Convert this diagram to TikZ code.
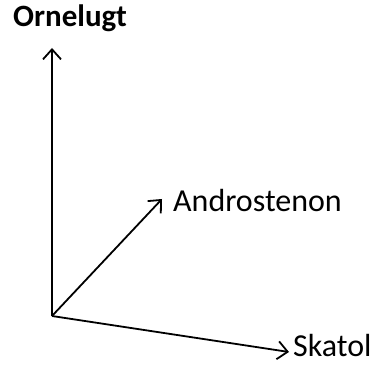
\documentclass[tikz,border=0pt]{standalone}
\usepackage{fontspec}
\setmainfont{Carlito}
\usetikzlibrary{arrows.meta}

\begin{document}
\begin{tikzpicture}[x=1pt, y=-1pt,
      axis/.style={-{Straight Barb[length=10pt, width=18pt]}, line width=1.8pt},
      lbl/.style={anchor=base west, inner sep=0pt, font=\fontsize{32}{38}\selectfont}
  ]
    \useasboundingbox (0,0) rectangle (375,371);
    \coordinate (O) at (52,316);
    \coordinate (ytip) at (52,48);
    \coordinate (atip) at (162,199);
    \coordinate (stip) at (289,352);
    \node[lbl, font=\fontsize{31}{37}\selectfont\bfseries] (orn) at (13,27) {Ornelugt};
    \node[lbl] (andro) at (173,212) {Androstenon};
    \node[lbl] (skatol) at (293,357) {Skatol};
    \draw[axis] (O) -- (ytip);
    \draw[axis] (O) -- (atip);
    \draw[axis] (O) -- (stip);
  \end{tikzpicture}
\end{document}
